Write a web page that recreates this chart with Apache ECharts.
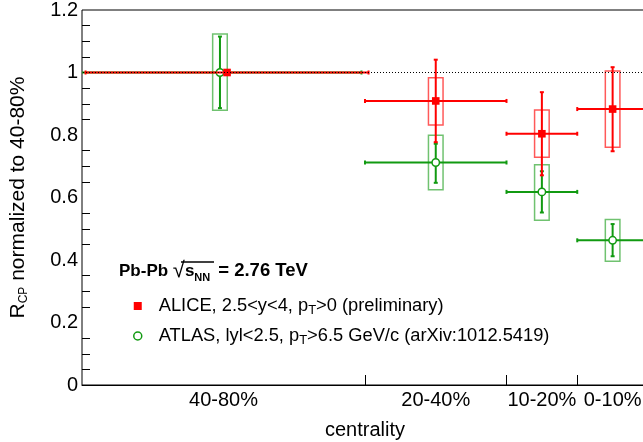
<!DOCTYPE html>
<html><head><meta charset="utf-8">
<script src="https://cdn.jsdelivr.net/npm/echarts@6/dist/echarts.min.js"></script>
<style>html,body{margin:0;padding:0;overflow:hidden;background:#fff}#c{width:700px;height:442px}</style>
</head><body><div id="c"></div>
<script>
// ---- data ----
const categories = ['40-80%', '20-40%', '10-20%', '0-10%'];
const binCenter = [60, 30, 15, 5];
const binEdges = [40, 20, 10];
const yMajorTicks = [0, 0.2, 0.4, 0.6, 0.8, 1.0, 1.2];
const yMinorTicks = [0.05, 0.1, 0.15, 0.25, 0.3, 0.35, 0.45, 0.5, 0.55, 0.65, 0.7, 0.75,
                     0.85, 0.9, 0.95, 1.05, 1.1, 1.15];

const aliceX      = [59.5, 30, 15, 5];
const aliceXLo    = [39.5, 20, 10, 0];
const aliceXHi    = [79.5, 40, 20, 10];
const aliceY      = [1.0, 0.909, 0.804, 0.883];
const aliceStatLo = [1.0, 0.777, 0.671, 0.748];
const aliceStatHi = [1.0, 1.041, 0.937, 1.017];
const aliceSystLo = [null, 0.832, 0.729, 0.761];
const aliceSystHi = [null, 0.983, 0.880, 1.005];

const atlasX      = [60.5, 30, 15, 5];
const atlasXLo    = [40.5, 20, 10, 0];
const atlasXHi    = [80.5, 40, 20, 10];
const atlasY      = [1.0, 0.712, 0.618, 0.463];
const atlasStatLo = [0.886, 0.647, 0.552, 0.412];
const atlasStatHi = [1.115, 0.772, 0.684, 0.515];
const atlasSystLo = [0.879, 0.625, 0.527, 0.396];
const atlasSystHi = [1.123, 0.799, 0.705, 0.530];

const refLine = [[0, 1], [80, 1]];

// ---- build ----
function rows(x, xlo, xhi, y, slo, shi, ylo, yhi) {
  return x.map((v, i) => [v, y[i], xlo[i], xhi[i], slo[i], shi[i],
    ylo[i] == null ? NaN : ylo[i], yhi[i] == null ? NaN : yhi[i]]);
}
const FONT = 'Liberation Sans, Arial, sans-serif';
const RED = '#ff0000', GREEN = '#119a11';

function makeRender(color, boxColor, marker) {
  return function (params, api) {
    const x = api.value(0), y = api.value(1);
    const p = api.coord([x, y]);
    const l = api.coord([api.value(2), y]);
    const r = api.coord([api.value(3), y]);
    const t = api.coord([x, api.value(5)]);
    const b = api.coord([x, api.value(4)]);
    const ch = [];
    const ls = { stroke: color, lineWidth: 2 };
    const sLo = api.value(6), sHi = api.value(7);
    if (!isNaN(sLo) && !isNaN(sHi)) {
      const bt = api.coord([x, sHi]), bb = api.coord([x, sLo]);
      ch.push({ type: 'rect', shape: { x: p[0] - 7.3, y: bt[1], width: 14.6, height: bb[1] - bt[1] },
        style: { fill: 'none', stroke: boxColor, lineWidth: 1.5 } });
    }
    ch.push({ type: 'line', shape: { x1: l[0], y1: p[1], x2: r[0], y2: p[1] }, style: ls });
    ch.push({ type: 'line', shape: { x1: l[0], y1: p[1] - 2, x2: l[0], y2: p[1] + 2 }, style: ls });
    ch.push({ type: 'line', shape: { x1: r[0], y1: p[1] - 2, x2: r[0], y2: p[1] + 2 }, style: ls });
    if (Math.abs(t[1] - b[1]) > 0.5) {
      ch.push({ type: 'line', shape: { x1: p[0], y1: t[1], x2: p[0], y2: b[1] }, style: ls });
      ch.push({ type: 'line', shape: { x1: p[0] - 2, y1: t[1], x2: p[0] + 2, y2: t[1] }, style: ls });
      ch.push({ type: 'line', shape: { x1: p[0] - 2, y1: b[1], x2: p[0] + 2, y2: b[1] }, style: ls });
    }
    if (marker === 'square') {
      ch.push({ type: 'rect', shape: { x: p[0] - 3.8, y: p[1] - 3.8, width: 7.6, height: 7.6 }, style: { fill: color } });
    } else {
      ch.push({ type: 'circle', shape: { cx: p[0], cy: p[1], r: 3.7 }, style: { fill: '#fff', stroke: color, lineWidth: 1.5 } });
    }
    return { type: 'group', children: ch };
  };
}

const chart = echarts.init(document.getElementById('c'), null, { renderer: 'canvas' });
const sub = { fontSize: 13, fontFamily: FONT, color: '#000', lineHeight: 12, verticalAlign: 'bottom' };
const main = { fontSize: 18.3, fontFamily: FONT, color: '#000', lineHeight: 22 };

chart.setOption({
  animation: false,
  backgroundColor: '#fff',
  grid: { left: 82, right: 52, top: 10, bottom: 57, show: true, borderColor: '#000', borderWidth: 1,
          containLabel: false, outerBoundsMode: 'none' },
  title: {
    left: 119, top: 259, padding: 0,
    text: '{b|Pb-Pb }{r|\u221A}{b|s}{bs|NN}{e|= 2.76 TeV}',
    textStyle: { rich: {
      b: { fontSize: 17, fontWeight: 'bold', fontFamily: FONT, color: '#000', lineHeight: 24 },
      e: { fontSize: 18.5, fontWeight: 'bold', fontFamily: FONT, color: '#000', lineHeight: 24, padding: [0, 0, 0, 8] },
      r: { fontSize: 22, fontWeight: 'normal', fontFamily: FONT, color: '#000', lineHeight: 24 },
      bs: { fontSize: 11, fontWeight: 'bold', fontFamily: FONT, color: '#000', lineHeight: 11, verticalAlign: 'bottom' }
    } }
  },
  graphic: [{ type: 'line', shape: { x1: 181, y1: 262, x2: 214, y2: 262 }, style: { stroke: '#000', lineWidth: 1.4 } }],
  legend: {
    orient: 'vertical', left: 133, top: 297, padding: 0, itemGap: 10, itemWidth: 8, itemHeight: 8,
    data: [
      { name: 'ALICE', icon: 'rect', itemStyle: { color: RED } },
      { name: 'ATLAS', icon: 'circle', itemStyle: { color: '#fff', borderColor: GREEN, borderWidth: 1.5 } }
    ],
    formatter: n => n === 'ALICE'
      ? '{m|ALICE, 2.5<y<4, p}{s|T}{m|>0 (preliminary)}'
      : '{m|ATLAS, lyl<2.5, p}{s|T}{m|>6.5 GeV/c (arXiv:1012.5419)}',
    textStyle: { padding: [0, 0, 0, 12], rich: { m: main, s: sub } }
  },
  xAxis: {
    type: 'value', min: 0, max: 80, inverse: true,
    name: 'centrality', nameLocation: 'middle', nameGap: 35,
    nameTextStyle: { fontSize: 20, fontFamily: FONT, color: '#000' },
    axisLine: { lineStyle: { color: '#000', width: 1 } },
    axisTick: { show: true, inside: true, length: 10, customValues: binEdges, lineStyle: { color: '#000' } },
    axisLabel: { customValues: binCenter, margin: 5, fontSize: 20, fontFamily: FONT, color: '#000',
      formatter: v => categories[binCenter.indexOf(v)] },
    splitLine: { show: false }
  },
  yAxis: [{
    type: 'value', min: 0, max: 1.2, interval: 0.2,
    name: '{r|R}{c|CP}{r| normalized to 40-80%}', nameLocation: 'middle', nameGap: 52,
    nameTextStyle: { rich: {
      r: { fontSize: 21, fontFamily: FONT, color: '#000', lineHeight: 24 },
      c: { fontSize: 12, fontFamily: FONT, color: '#000', lineHeight: 12, verticalAlign: 'bottom' }
    } },
    axisLine: { show: true, lineStyle: { color: '#000', width: 1 } },
    axisTick: { show: true, inside: true, length: 16, customValues: yMajorTicks, lineStyle: { color: '#000', width: 1 } },
    axisLabel: { customValues: yMajorTicks, margin: 4, fontSize: 20, fontFamily: FONT, color: '#000' },
    splitLine: { show: false }
  }, {
    type: 'value', min: 0, max: 1.2, position: 'left', offset: 0,
    axisLine: { show: false },
    axisTick: { show: true, inside: true, length: 8, customValues: yMinorTicks, lineStyle: { color: '#000', width: 1 } },
    axisLabel: { show: false },
    splitLine: { show: false }
  }],
  series: [
    { name: 'ATLAS', type: 'custom', z: 2, clip: true, itemStyle: { color: GREEN },
      renderItem: makeRender(GREEN, 'rgba(17,154,17,0.6)', 'circle'),
      encode: { x: [0, 2, 3], y: [1, 4, 5, 6, 7] },
      data: rows(atlasX, atlasXLo, atlasXHi, atlasY, atlasStatLo, atlasStatHi, atlasSystLo, atlasSystHi) },
    { name: 'ALICE', type: 'custom', z: 3, clip: true, itemStyle: { color: RED },
      renderItem: makeRender(RED, 'rgba(255,0,0,0.65)', 'square'),
      encode: { x: [0, 2, 3], y: [1, 4, 5, 6, 7] },
      data: rows(aliceX, aliceXLo, aliceXHi, aliceY, aliceStatLo, aliceStatHi, aliceSystLo, aliceSystHi) },
    { name: 'ref', type: 'line', z: 4, symbol: 'none', silent: true, data: refLine,
      lineStyle: { color: '#000', width: 1, type: [1, 2] } }
  ]
});
</script></body></html>
